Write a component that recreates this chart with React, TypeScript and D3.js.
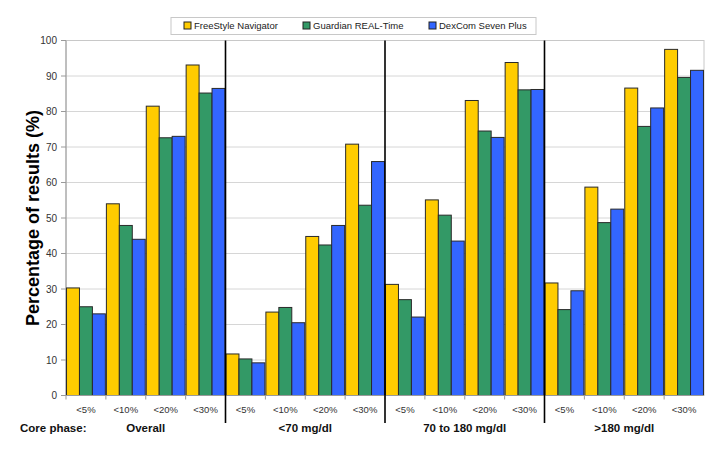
import React from "react";
import * as d3 from "d3";

const phases = ["Overall", "<70 mg/dl", "70 to 180 mg/dl", ">180 mg/dl"];
const thresholds = ["<5%", "<10%", "<20%", "<30%"];
const seriesNames = ["FreeStyle Navigator", "Guardian REAL-Time", "DexCom Seven Plus"];
const seriesColors = ["#FFCC00", "#339966", "#3366FF"];

// values per phase, per threshold
const freestyle = [
  [30.3, 54.0, 81.5, 93.1],
  [11.7, 23.5, 44.8, 70.8],
  [31.3, 55.1, 83.1, 93.8],
  [31.7, 58.7, 86.6, 97.5],
];
const guardian = [
  [25.0, 47.9, 72.6, 85.2],
  [10.3, 24.8, 42.4, 53.6],
  [27.0, 50.8, 74.5, 86.1],
  [24.2, 48.7, 75.8, 89.6],
];
const dexcom = [
  [23.0, 44.0, 73.0, 86.5],
  [9.2, 20.5, 47.9, 65.9],
  [22.1, 43.5, 72.7, 86.2],
  [29.5, 52.5, 81.0, 91.6],
];
const allSeries = [freestyle, guardian, dexcom];
const yTicks = [0, 10, 20, 30, 40, 50, 60, 70, 80, 90, 100];

const W = 724;
const H = 451;
const left = 66;
const right = 704;
const top = 40.5;
const bottom = 395.5;
const FONT = "'Liberation Sans', Arial, Helvetica, sans-serif";

export default function App() {
  const groups: { key: string; phase: number; thr: number }[] = [];
  phases.forEach((_, p) =>
    thresholds.forEach((_, t) => groups.push({ key: `${p}-${t}`, phase: p, thr: t }))
  );
  const x0 = d3.scaleBand<string>().domain(groups.map((g) => g.key)).range([left, right]).padding(0);
  const x1 = d3
    .scaleBand<number>()
    .domain([0, 1, 2])
    .range([0, x0.bandwidth()])
    .paddingInner(0)
    .paddingOuter(0.04);
  const y = d3.scaleLinear().domain([0, 100]).range([bottom, top]);
  const phaseW = (right - left) / phases.length;

  return (
    <svg
      width={W}
      height={H}
      style={{ position: "absolute", left: 0, top: 0, background: "#fff" }}
      fontFamily={FONT}
    >
      {/* gridlines */}
      {yTicks.map((t) => (
        <line key={"g" + t} x1={left} x2={right} y1={y(t)} y2={y(t)} stroke="#d6d6d6" strokeWidth={1} />
      ))}
      {/* plot border */}
      <rect x={left} y={top} width={right - left} height={bottom - top} fill="none" stroke="#c8c8c8" />
      {/* y axis */}
      <line x1={left} x2={left} y1={top} y2={bottom} stroke="#9a9a9a" />
      {yTicks.map((t) => (
        <g key={"yt" + t}>
          <line x1={left - 5} x2={left} y1={y(t)} y2={y(t)} stroke="#9a9a9a" />
          <text x={left - 9} y={y(t)} dy="0.35em" textAnchor="end" fontSize={10} fill="#333">
            {t}
          </text>
        </g>
      ))}
      <text
        transform={`translate(33,${(top + bottom) / 2}) rotate(-90)`}
        textAnchor="middle"
        dy="0.35em"
        fontSize={18}
        fontWeight="bold"
        fill="#000"
      >
        Percentage of results (%)
      </text>
      {/* bars */}
      {groups.map((g) =>
        allSeries.map((s, si) => {
          const v = s[g.phase][g.thr];
          const bx = (x0(g.key) as number) + (x1(si) as number);
          return (
            <rect
              key={g.key + "-" + si}
              x={bx}
              y={y(v)}
              width={x1.bandwidth()}
              height={bottom - y(v)}
              fill={seriesColors[si]}
              stroke="#2a2a2a"
              strokeWidth={1}
            />
          );
        })
      )}
      {/* x axis */}
      <line x1={left} x2={right} y1={bottom} y2={bottom} stroke="#9a9a9a" />
      {groups.map((g, i) => (
        <line
          key={"xt" + i}
          x1={x0(g.key) as number}
          x2={x0(g.key) as number}
          y1={bottom}
          y2={bottom + 4}
          stroke="#9a9a9a"
        />
      ))}
      {groups.map((g) => (
        <text
          key={"xl" + g.key}
          x={(x0(g.key) as number) + x0.bandwidth() / 2}
          y={410}
          dy="0.35em"
          textAnchor="middle"
          fontSize={9.5}
          fill="#333"
        >
          {thresholds[g.thr]}
        </text>
      ))}
      {/* separators */}
      {[1, 2, 3].map((p) => (
        <line
          key={"sep" + p}
          x1={left + p * phaseW}
          x2={left + p * phaseW}
          y1={top}
          y2={423}
          stroke="#000"
          strokeWidth={1.6}
        />
      ))}
      {/* phase labels */}
      <text x={20} y={428} dy="0.35em" fontSize={11.5} fontWeight="bold" fill="#111">
        Core phase:
      </text>
      {phases.map((p, i) => (
        <text
          key={"ph" + i}
          x={left + (i + 0.5) * phaseW}
          y={428}
          dy="0.35em"
          textAnchor="middle"
          fontSize={11.5}
          fontWeight="bold"
          fill="#111"
        >
          {p}
        </text>
      ))}
      {/* legend */}
      <rect x={171} y={17.5} width={365} height={17} fill="#fff" stroke="#c8c8c8" />
      {seriesNames.map((n, i) => {
        const lx = [184, 303, 429][i];
        return (
          <g key={"lg" + i}>
            <rect x={lx} y={22} width={7} height={7} fill={seriesColors[i]} stroke="#222" strokeWidth={1} />
            <text x={lx + 10} y={26} dy="0.35em" fontSize={9.5} fill="#222">
              {n}
            </text>
          </g>
        );
      })}
    </svg>
  );
}
